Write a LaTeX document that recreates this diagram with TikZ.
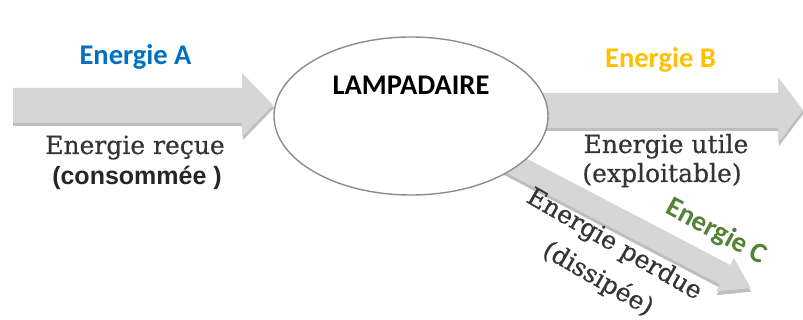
\documentclass[tikz,border=0pt]{standalone}
\usepackage{fontspec}
\usetikzlibrary{shapes.geometric}
\newfontfamily\calib{Carlito}
\newfontfamily\serifx[FakeBold=0.6]{DejaVu Serif}
\newfontfamily\arialx{Liberation Sans}
\definecolor{ablue}{RGB}{0,112,192}
\definecolor{borange}{RGB}{255,192,0}
\definecolor{cgreen}{RGB}{84,130,53}
\definecolor{txtgray}{RGB}{52,52,52}
\definecolor{arrfill}{RGB}{214,214,214}
\definecolor{arrshadow}{RGB}{190,190,190}
\definecolor{ellline}{RGB}{140,140,140}
\begin{document}
\begin{tikzpicture}[x=1pt,y=-1pt,
  lbl/.style={font=\calib\bfseries\fontsize{28.5}{30}\selectfont, inner sep=0pt},
  sertxt/.style={font=\serifx\fontsize{25}{27}\selectfont, text=txtgray, inner sep=0pt},
  arrbody/.style={fill=arrfill, draw=none},
  arrshad/.style={fill=arrshadow, draw=none}
]
\useasboundingbox (0,0) rectangle (803,320);
% left arrow
\path[arrshad] (13,91) -- (243,91) -- (243,76) -- (274,108) -- (243,140) -- (243,126) -- (13,126) -- cycle;
\path[arrbody] (13,88) -- (242,88) -- (242,73) -- (273,105) -- (242,137) -- (242,123) -- (13,123) -- cycle;
% right arrow
\path[arrshad] (520,96) -- (779,96) -- (779,80) -- (804,113) -- (779,146) -- (779,131) -- (520,131) -- cycle;
\path[arrbody] (520,93) -- (778,93) -- (778,77) -- (803,110) -- (778,143) -- (778,128) -- (520,128) -- cycle;
% diagonal arrow
\begin{scope}[shift={(500,157)}, rotate=-27.6]
  \path[arrshad] (0,-8) -- (256,-8) -- (256,-16) -- (285,3) -- (256,22) -- (256,14) -- (0,14) -- cycle;
  \path[arrbody] (0,-11) -- (254,-11) -- (254,-19) -- (283,0) -- (254,19) -- (254,11) -- (0,11) -- cycle;
\end{scope}
% ellipse
\node[ellipse, draw=ellline, line width=1.4pt, fill=white, minimum width=274pt, minimum height=158pt, inner sep=0pt] (lamp) at (411,116) {};
\node[lbl, text=black, anchor=base] (lamptxt) at (411,95) {LAMPADAIRE};
% labels
\node[lbl, text=ablue, anchor=base] (ea) at (135.5,65) {Energie A};
\node[lbl, text=borange, anchor=base] (eb) at (660.5,68) {Energie B};
\node[lbl, text=cgreen, rotate=-28] (ec) at (716,232) {Energie C};
\node[sertxt, anchor=base] (recue) at (135,154) {Energie reçue};
\node[font=\arialx\bfseries\fontsize{25}{27}\selectfont, text=black!85, inner sep=0pt, anchor=base] (cons) at (137,185) {(consommée )};
\node[sertxt, anchor=base] (utile) at (666,153) {Energie utile};
\node[sertxt, anchor=base] (expl) at (662,182) {(exploitable)};
\node[sertxt, rotate=-30] (perdue) at (614,245) {Energie perdue};
\node[sertxt, rotate=-30] (diss) at (598,279) {(dissipée)};
\end{tikzpicture}
\end{document}
